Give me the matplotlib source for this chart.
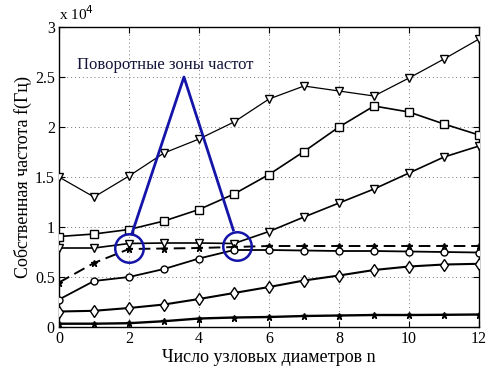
import matplotlib
matplotlib.use("Agg")
import matplotlib.pyplot as plt
from matplotlib.ticker import FuncFormatter, MultipleLocator

plt.rcParams['font.family'] = ['Liberation Serif', 'DejaVu Serif']

# Node diameters
n = list(range(13))

# Natural frequencies, Hz
f_top_tri = [15000, 13000, 15100, 17400, 18800, 20500, 22800, 24100, 23600, 23100, 24900, 26800, 28800]
f_square = [9050, 9300, 9750, 10600, 11750, 13300, 15250, 17550, 20000, 22100, 21500, 20300, 19200]
f_mid_tri = [7900, 7900, 8350, 8400, 8400, 8350, 9550, 11000, 12400, 13800, 15400, 17000, 18100]
f_dashed = [4450, 6400, 7800, 7850, 7900, 8000, 8100, 8100, 8100, 8100, 8100, 8100, 8100]
f_circle = [2750, 4600, 5000, 5800, 6850, 7700, 7700, 7650, 7600, 7600, 7550, 7500, 7450]
f_diamond = [1550, 1620, 1900, 2250, 2800, 3400, 4000, 4650, 5150, 5700, 6050, 6250, 6320]
f_star = [330, 330, 380, 580, 850, 950, 1000, 1100, 1150, 1200, 1200, 1220, 1250]

# Frequency turning zones: circled points and the pointer from the caption
zone_n = [2.0, 5.08]
zone_f = [7900, 8100]
pointer_n = [2.08, 3.57, 4.98]
pointer_f = [9300, 25000, 9700]
caption = "Поворотные зоны частот"

fig = plt.figure(figsize=(4.86, 3.68), dpi=100)
ax = fig.add_axes([0.1214, 0.1114, 0.8642, 0.8152])

common = dict(color='black', markerfacecolor='white', markeredgecolor='black', markeredgewidth=1.0)
ax.plot(n, f_top_tri, marker='v', markersize=6, linewidth=0.9, **common, zorder=3)
ax.plot(n, f_square, marker='s', markersize=5.5, linewidth=1.2, **common, zorder=3)
ax.plot(n, f_mid_tri, marker='v', markersize=6, linewidth=1.2, **common, zorder=3)
ax.plot(n, f_dashed, marker='*', markersize=5, linewidth=1.4, linestyle=(0, (6, 3)),
        color='black', markerfacecolor='black', markeredgecolor='black', zorder=3)
ax.plot(n, f_circle, marker='o', markersize=5, linewidth=1.3, **common, zorder=3)
ax.plot(n, f_diamond, marker='d', markersize=6, linewidth=1.5, **common, zorder=3)
ax.plot(n, f_star, marker='*', markersize=5, linewidth=1.7, color='black',
        markerfacecolor='black', markeredgecolor='black', zorder=3)

blue = '#1414a8'
ax.plot(pointer_n, pointer_f, color=blue, linewidth=2.0, zorder=4)
ax.plot(zone_n, zone_f, linestyle='none', marker='o', markersize=20.5,
        markerfacecolor='none', markeredgecolor=blue, markeredgewidth=1.8, zorder=5)
ax.text(0.5, 26200, caption, fontsize=12, color='#14143a', ha='left', va='center', zorder=6)

ax.set_xlim(0, 12)
ax.set_ylim(0, 30000)
ax.xaxis.set_major_locator(MultipleLocator(2))
ax.yaxis.set_major_locator(MultipleLocator(5000))
ax.yaxis.set_major_formatter(FuncFormatter(lambda v, p: f"{v / 1e4:g}"))
ax.grid(True, linestyle=(0, (1, 3)), color='#777777', linewidth=0.7)
ax.tick_params(direction='in', length=4, labelsize=11.5, top=True, right=True, pad=3)
for s in ax.spines.values():
    s.set_linewidth(1.0)

ax.text(0.0, 1.012, r"x 10$^{4}$", transform=ax.transAxes, fontsize=11, ha='left', va='bottom')
ax.set_xlabel("Число узловых диаметров n", fontsize=13, labelpad=1)
ax.set_ylabel("Собственная частота f(Гц)", fontsize=13, labelpad=2)

fig.savefig("out.png", dpi=100)
